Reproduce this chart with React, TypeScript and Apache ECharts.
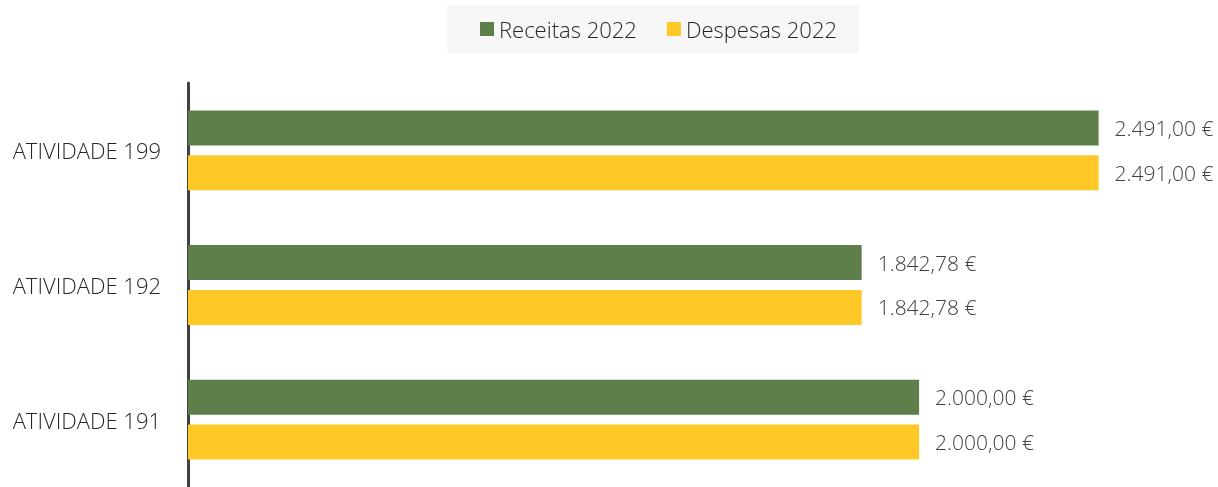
import React, { useEffect, useRef } from "react";
import * as echarts from "echarts";

const categories = ["ATIVIDADE 199", "ATIVIDADE 192", "ATIVIDADE 191"];
const receitas2022 = [2491.0, 1842.78, 2000.0];
const despesas2022 = [2491.0, 1842.78, 2000.0];
const seriesNames = ["Receitas 2022", "Despesas 2022"];

const FONT = "'Open Sans', 'Noto Sans', sans-serif";

function formatEuro(v: number): string {
  const fixed = v.toFixed(2);
  const [intPart, dec] = fixed.split(".");
  const withDots = intPart.replace(/\B(?=(\d{3})+(?!\d))/g, ".");
  return `${withDots},${dec} €`;
}

export default function App() {
  const ref = useRef<HTMLDivElement>(null);

  useEffect(() => {
    if (!ref.current) return;
    const chart = echarts.init(ref.current, null, { renderer: "svg" });
    const labelCfg = {
      show: true,
      position: "right" as const,
      distance: 16,
      color: "#404040",
      fontSize: 21,
      fontWeight: 300,
      fontFamily: FONT,
      formatter: (p: any) => formatEuro(p.value),
    };
    chart.setOption({
      animation: false,
      legend: {
        data: seriesNames,
        left: 447,
        top: 5,
        backgroundColor: "#f7f7f7",
        padding: [13, 22, 13, 33],
        icon: "rect",
        itemWidth: 14,
        itemHeight: 14,
        itemGap: 30,
        textStyle: { fontSize: 22, fontWeight: 300, color: "#262626", fontFamily: FONT },
      },
      grid: { left: 188, width: 987, top: 83, height: 406 },
      xAxis: {
        type: "value",
        min: 0,
        max: 2700,
        show: false,
      },
      yAxis: {
        type: "category",
        data: categories,
        inverse: true,
        offset: 3,
        axisTick: { show: false },
        axisLine: { show: true, lineStyle: { color: "#404040", width: 3 } },
        axisLabel: { margin: 24, fontSize: 22, fontWeight: 300, color: "#262626", fontFamily: FONT },
        splitLine: { show: false },
      },
      series: [
        {
          name: seriesNames[0],
          type: "bar",
          data: receitas2022,
          barWidth: 35,
          barGap: "28%",
          itemStyle: { color: "#5e7f4a" },
          label: labelCfg,
        },
        {
          name: seriesNames[1],
          type: "bar",
          data: despesas2022,
          barWidth: 35,
          barGap: "28%",
          itemStyle: { color: "#ffc827" },
          label: labelCfg,
        },
      ],
    });
    return () => chart.dispose();
  }, []);

  return (
    <div
      ref={ref}
      style={{ position: "fixed", left: 0, top: 0, width: 1218, height: 487 }}
    />
  );
}
